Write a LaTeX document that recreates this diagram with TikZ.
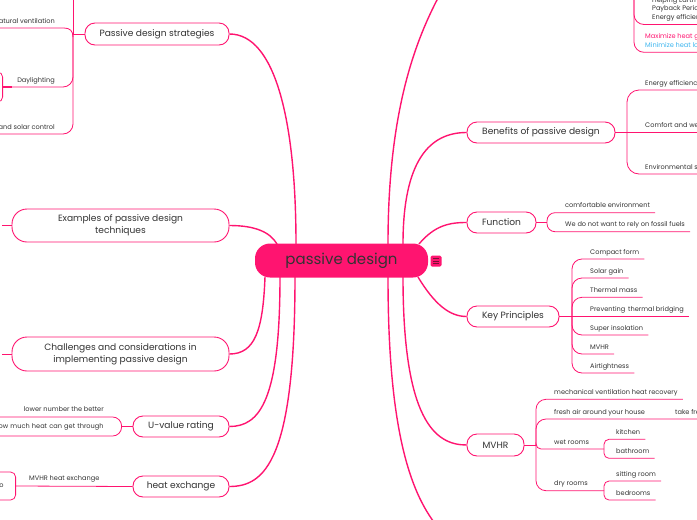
\documentclass[tikz,border=0pt]{standalone}
\usepackage{fontspec}
\setmainfont{Poppins}
\definecolor{pk}{HTML}{FF1470}
\definecolor{txt}{HTML}{333333}
\definecolor{bl}{HTML}{3DB5EE}
\definecolor{icd}{HTML}{7A1035}
\tikzset{
  conn/.style={draw=pk, line width=1.4pt},
  thinl/.style={draw=pk, line width=0.8pt},
  lone/.style={draw=pk, line width=0.9pt, fill=white, text=txt,
    font=\fontsize{9.1}{12}\selectfont, inner sep=0pt, align=center},
  leaf/.style={font=\fontsize{6.6}{8.8}\selectfont, text=txt, inner xsep=5pt,
    inner ysep=3.3pt, text height=4.8pt, text depth=1.4pt, anchor=south west},
  leafL/.style={leaf, anchor=south east},
}
\begin{document}
\begin{tikzpicture}[x=1pt,y=-1pt]
\useasboundingbox (0,0) rectangle (697,520);
\clip (0,0) rectangle (697,520);

% ---------- central ----------
\node[fill=pk, rounded corners=15pt, minimum width=173pt, minimum height=34pt,
  inner sep=0pt, text=txt, font=\fontsize{15}{18}\selectfont] (c) at (341.5,260.5) {passive design};
\node[fill=pk, rounded corners=1.5pt, minimum size=11pt, inner sep=0pt] (ic) at (436,261) {};
\draw[icd, line width=0.6pt] ([xshift=-3pt,yshift=2.5pt]ic.center) -- ([xshift=3pt,yshift=2.5pt]ic.center)
  ([xshift=-3pt]ic.center) -- ([xshift=3pt]ic.center)
  ([xshift=-3pt,yshift=-2.5pt]ic.center) -- ([xshift=3pt,yshift=-2.5pt]ic.center);

% ---------- level 1 nodes ----------
\node[lone, rounded corners=10pt, minimum width=144pt, minimum height=22pt] (pds) at (157,34) {Passive design strategies};
\node[lone, rounded corners=15pt, minimum width=217pt, minimum height=33pt] (ex) at (120.5,225.5) {Examples of passive design\\techniques};
\node[lone, rounded corners=15pt, minimum width=217pt, minimum height=34pt] (ch) at (120.5,354) {Challenges and considerations in\\implementing passive design};
\node[lone, rounded corners=10pt, minimum width=96pt, minimum height=21pt] (uv) at (181,426.5) {U-value rating};
\node[lone, rounded corners=10pt, minimum width=96pt, minimum height=21pt] (he) at (181,486.5) {heat exchange};
\node[lone, rounded corners=10pt, minimum width=148pt, minimum height=21pt] (ben) at (541,132.5) {Benefits of passive design};
\node[lone, rounded corners=10pt, minimum width=69pt, minimum height=21pt] (fn) at (501.5,222.5) {Function};
\node[lone, rounded corners=10pt, minimum width=92pt, minimum height=21pt] (kp) at (513,316.5) {Key Principles};
\node[lone, rounded corners=10pt, minimum width=57pt, minimum height=22pt] (mv) at (495.5,445) {MVHR};

\coordinate (topoff) at (445,-15);
\coordinate (botoff) at (445,535);

% ---------- connectors from centre ----------
\draw[conn] (296,244) .. controls (296,120) and (275,34) .. (pds.east);
\draw[conn] (277,244) .. controls (270,232) and (255,225.5) .. (ex.east);
\draw[conn] (265,277) .. controls (263,330) and (255,354) .. (ch.east);
\draw[conn] (280,277) .. controls (280,400) and (260,426.5) .. (uv.east);
\draw[conn] (295,277) .. controls (295,460) and (265,486.5) .. (he.east);
\draw[conn] (388,244) .. controls (388,100) and (420,30) .. (topoff);
\draw[conn] (403,244) .. controls (403,160) and (430,132.5) .. (ben.west);
\draw[conn] (419,244) .. controls (435,225) and (450,222.5) .. (fn.west);
\draw[conn] (418,277) .. controls (435,305) and (450,316.5) .. (kp.west);
\draw[conn] (403,277) .. controls (403,420) and (435,445) .. (mv.west);
\draw[conn] (388,277) .. controls (388,430) and (410,500) .. (botoff);

% ---------- Passive design strategies children ----------
\node[leafL] (nv) at (60,28) {natural ventilation};
\node[leafL] (dl) at (60,87) {Daylighting};
\node[leafL] (sc) at (60,134) {and solar control};
\node[draw=pk, line width=0.8pt, rounded corners=5pt, minimum width=40pt, minimum height=30pt, anchor=east] (dlc) at (3,87) {};
\draw[thinl] (pds.west) -- (73,34);
\draw[thinl] (73,34) -- (73,-10);
\draw[thinl] (nv.south west) -- (64,28) .. controls (70,28) and (73,31) .. (73,37);
\draw[thinl, rounded corners=10pt] (73,34) -- (73,87) -- (dlc.east);
\draw[line width=1.6pt, pk] (dlc.east) -- (12,87);
\draw[thinl, rounded corners=10pt] (73,34) -- (73,134) -- (-5,134);

% ---------- Examples / Challenges left brackets ----------
\coordinate (exb) at (1.5,225.5);
\coordinate (chb) at (1.5,354);
\draw[thinl] (ex.west) -- (exb);
\draw[thinl] (-8,198) .. controls (2,210) and (2,241) .. (-8,253);
\draw[thinl] (ch.west) -- (chb);
\draw[thinl] (-8,328) .. controls (2,340) and (2,368) .. (-8,380);

% ---------- U-value children ----------
\node[draw=pk, line width=0.8pt, rounded corners=9pt, text=txt, font=\fontsize{6.6}{8}\selectfont,
  text width=140pt, align=right, inner xsep=18pt, minimum height=19pt, inner ysep=0pt, anchor=east] (hm) at (122,426.5) {how much heat can get through};
\node[font=\fontsize{6.6}{8}\selectfont, text=txt, anchor=base east, inner sep=0pt] (lnb) at (104,411.5) {lower number the better};
\draw[thinl] (uv.west) -- (hm.east);

% ---------- heat exchange children ----------
\node[draw=pk, line width=0.8pt, rounded corners=5pt, text=txt, font=\fontsize{6.6}{8}\selectfont,
  text width=30pt, align=right, inner xsep=12pt, minimum height=28pt, inner ysep=0pt, anchor=east] (hx) at (16,486) {o};
\node[font=\fontsize{6.6}{8}\selectfont, text=txt, anchor=base west, inner sep=0pt] (mhe) at (29,480.5) {MVHR heat exchange};
\draw[thinl] (he.west) -- (hx.east);

% ---------- top right ----------
\node[leaf, align=left] (t1) at (647,24.5) {Helping Earth\\Payback Period\\Energy efficiency};
\node[leaf, align=left] (t2) at (640,52.3) {\textcolor{pk}{Maximize heat gain}\\\textcolor{bl}{Minimize heat loss}};
\draw[thinl, rounded corners=10pt] (634,-20) -- (634,24.5) -- (t1.south east);
\draw[thinl, rounded corners=10pt] (634,-20) -- (634,52.3) -- (t2.south east);

% ---------- Benefits ----------
\node[leaf] (b1) at (640,90) {Energy efficiency};
\node[leaf] (b2) at (640,132.5) {Comfort and well-being};
\node[leaf] (b3) at (640,174) {Environmental sustainability};
\draw[thinl] (ben.east) -- (b2.south east);
\draw[thinl, rounded corners=12pt] (627,132.5) -- (627,90) -- (b1.south east);
\draw[thinl, rounded corners=12pt] (627,132.5) -- (627,174) -- (b3.south east);

% ---------- Function ----------
\node[leaf] (f1) at (560,212.7) {comfortable environment};
\node[leaf] (f2) at (560,231.7) {We do not want to rely on fossil fuels};
\draw[thinl] (fn.east) -- (547,222.5);
\draw[thinl, rounded corners=8pt] (547,222.5) -- (547,212.7) -- (f1.south east);
\draw[thinl, rounded corners=8pt] (547,222.5) -- (547,231.7) -- (f2.south east);

% ---------- Key Principles ----------
\node[leaf] (k1) at (585,259) {Compact form};
\node[leaf] (k2) at (585,278) {Solar gain};
\node[leaf] (k3) at (585,297.3) {Thermal mass};
\node[leaf] (k4) at (585,316.5) {Preventing\, thermal bridging};
\node[leaf] (k5) at (585,335) {Super insolation};
\node[leaf] (k6) at (585,354) {MVHR};
\node[leaf] (k7) at (585,373) {Airtightness};
\draw[thinl] (kp.east) -- (k4.south east);
\foreach \k/\y in {k1/259,k2/278,k3/297.3,k5/335,k6/354,k7/373}{
  \draw[thinl, rounded corners=10pt] (572,316.5) -- (572,\y) -- (\k.south east);
}

% ---------- MVHR ----------
\node[leaf] (m1) at (549,399.3) {mechanical ventilation heat recovery};
\node[leaf] (m2) at (549,419) {fresh air around your house};
\node[leaf] (m2a) at (670,419) {take fresh air in};
\node[leaf] (m3) at (549,449) {wet rooms};
\node[leaf] (m4) at (549,490.7) {dry rooms};
\node[leaf] (w1) at (611,439.3) {kitchen};
\node[leaf] (w2) at (611,458.3) {bathroom};
\node[leaf] (d1) at (611,481) {sitting room};
\node[leaf] (d2) at (611,500) {bedrooms};
\draw[thinl] (mv.east) -- (536,445);
\draw[thinl, rounded corners=10pt] (536,445) -- (536,399.3) -- (m1.south east);
\draw[thinl, rounded corners=10pt] (536,445) -- (536,419) -- (m2.south east) -- (m2a.south east);
\draw[thinl, rounded corners=5pt] (536,445) -- (536,449) -- (604,449);
\draw[thinl, rounded corners=10pt] (536,445) -- (536,490.7) -- (604,490.7);
\draw[thinl, rounded corners=5pt] (w1.south east) -- (604,439.3) -- (604,458.3) -- (w2.south east);
\draw[thinl, rounded corners=5pt] (d1.south east) -- (604,481) -- (604,500) -- (d2.south east);
\end{tikzpicture}
\end{document}
